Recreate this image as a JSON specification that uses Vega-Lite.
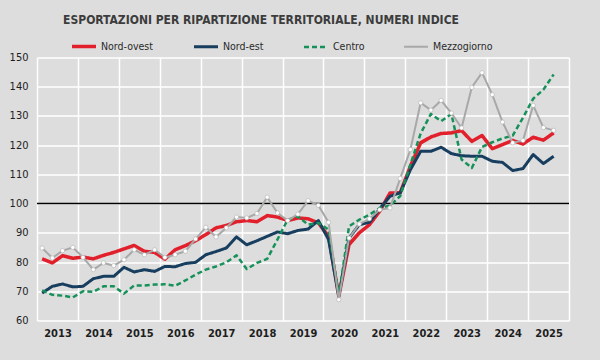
{
  "$schema": "https://vega.github.io/schema/vega-lite/v6.json",
  "autosize": {"type": "none"},
  "width": 532,
  "height": 263,
  "padding": {"left": 37, "top": 57.5, "right": 31, "bottom": 39.5},
  "background": "#dddddd",
  "title": {
    "text": "ESPORTAZIONI PER RIPARTIZIONE TERRITORIALE, NUMERI INDICE",
    "font": "Liberation Sans Narrow, Arial Narrow, DejaVu Sans Condensed, Liberation Sans, sans-serif",
    "fontSize": 12,
    "fontWeight": "bold",
    "color": "#3c3c3c",
    "anchor": "middle",
    "frame": "group",
    "dx": -42,
    "offset": 6
  },
  "config": {
    "view": {"stroke": null, "fill": "#dddddd"},
    "axis": {"labelFont": "Liberation Sans Narrow, Arial Narrow, DejaVu Sans Condensed, Liberation Sans, sans-serif", "labelColor": "#1e1e1e", "gridColor": "#ffffff", "gridWidth": 1.5, "gridOpacity": 1, "domain": false, "ticks": false, "title": null},
    "legend": {"labelFont": "Liberation Sans Narrow, Arial Narrow, DejaVu Sans Condensed, Liberation Sans, sans-serif"}
  },
  "data": {"values": [
    {"t": 2013.125, "Nord-ovest": 81.1, "Nord-est": 69.4, "Centro": 70.3, "Mezzogiorno": 84.8},
    {"t": 2013.375, "Nord-ovest": 79.7, "Nord-est": 71.7, "Centro": 68.8, "Mezzogiorno": 81.4},
    {"t": 2013.625, "Nord-ovest": 82.2, "Nord-est": 72.5, "Centro": 68.5, "Mezzogiorno": 83.9},
    {"t": 2013.875, "Nord-ovest": 81.3, "Nord-est": 71.5, "Centro": 67.9, "Mezzogiorno": 85.0},
    {"t": 2014.125, "Nord-ovest": 81.7, "Nord-est": 71.7, "Centro": 70.0, "Mezzogiorno": 81.6},
    {"t": 2014.375, "Nord-ovest": 81.1, "Nord-est": 74.3, "Centro": 69.8, "Mezzogiorno": 77.4},
    {"t": 2014.625, "Nord-ovest": 82.3, "Nord-est": 75.1, "Centro": 71.7, "Mezzogiorno": 79.7},
    {"t": 2014.875, "Nord-ovest": 83.3, "Nord-est": 75.1, "Centro": 71.7, "Mezzogiorno": 78.8},
    {"t": 2015.125, "Nord-ovest": 84.5, "Nord-est": 78.2, "Centro": 69.2, "Mezzogiorno": 80.8},
    {"t": 2015.375, "Nord-ovest": 85.7, "Nord-est": 76.6, "Centro": 72.0, "Mezzogiorno": 84.2},
    {"t": 2015.625, "Nord-ovest": 83.7, "Nord-est": 77.4, "Centro": 72.0, "Mezzogiorno": 82.5},
    {"t": 2015.875, "Nord-ovest": 83.3, "Nord-est": 76.8, "Centro": 72.3, "Mezzogiorno": 84.2},
    {"t": 2016.125, "Nord-ovest": 81.0, "Nord-est": 78.5, "Centro": 72.4, "Mezzogiorno": 81.6},
    {"t": 2016.375, "Nord-ovest": 84.2, "Nord-est": 78.4, "Centro": 71.9, "Mezzogiorno": 82.5},
    {"t": 2016.625, "Nord-ovest": 85.6, "Nord-est": 79.5, "Centro": 73.7, "Mezzogiorno": 83.7},
    {"t": 2016.875, "Nord-ovest": 87.3, "Nord-est": 79.9, "Centro": 75.7, "Mezzogiorno": 87.9},
    {"t": 2017.125, "Nord-ovest": 89.4, "Nord-est": 82.5, "Centro": 77.4, "Mezzogiorno": 91.9},
    {"t": 2017.375, "Nord-ovest": 91.7, "Nord-est": 83.6, "Centro": 78.5, "Mezzogiorno": 88.6},
    {"t": 2017.625, "Nord-ovest": 92.5, "Nord-est": 84.8, "Centro": 79.9, "Mezzogiorno": 91.7},
    {"t": 2017.875, "Nord-ovest": 93.8, "Nord-est": 88.6, "Centro": 82.3, "Mezzogiorno": 95.4},
    {"t": 2018.125, "Nord-ovest": 94.2, "Nord-est": 85.9, "Centro": 77.6, "Mezzogiorno": 95.1},
    {"t": 2018.375, "Nord-ovest": 93.8, "Nord-est": 87.3, "Centro": 79.7, "Mezzogiorno": 96.6},
    {"t": 2018.625, "Nord-ovest": 95.9, "Nord-est": 88.8, "Centro": 81.1, "Mezzogiorno": 102.2},
    {"t": 2018.875, "Nord-ovest": 95.4, "Nord-est": 90.3, "Centro": 87.7, "Mezzogiorno": 96.8},
    {"t": 2019.125, "Nord-ovest": 94.2, "Nord-est": 89.7, "Centro": 94.5, "Mezzogiorno": 94.2},
    {"t": 2019.375, "Nord-ovest": 95.1, "Nord-est": 90.8, "Centro": 95.6, "Mezzogiorno": 96.4},
    {"t": 2019.625, "Nord-ovest": 94.8, "Nord-est": 91.3, "Centro": 92.8, "Mezzogiorno": 101.0},
    {"t": 2019.875, "Nord-ovest": 93.4, "Nord-est": 94.2, "Centro": 93.4, "Mezzogiorno": 99.4},
    {"t": 2020.125, "Nord-ovest": 88.8, "Nord-est": 87.7, "Centro": 91.1, "Mezzogiorno": 93.6},
    {"t": 2020.375, "Nord-ovest": 68.3, "Nord-est": 68.3, "Centro": 68.5, "Mezzogiorno": 67.1},
    {"t": 2020.625, "Nord-ovest": 86.0, "Nord-est": 88.2, "Centro": 92.2, "Mezzogiorno": 88.2},
    {"t": 2020.875, "Nord-ovest": 90.0, "Nord-est": 92.8, "Centro": 94.5, "Mezzogiorno": 93.0},
    {"t": 2021.125, "Nord-ovest": 92.8, "Nord-est": 93.6, "Centro": 96.2, "Mezzogiorno": 94.8},
    {"t": 2021.375, "Nord-ovest": 97.4, "Nord-est": 98.2, "Centro": 98.5, "Mezzogiorno": 97.9},
    {"t": 2021.625, "Nord-ovest": 103.6, "Nord-est": 102.5, "Centro": 99.3, "Mezzogiorno": 98.5},
    {"t": 2021.875, "Nord-ovest": 103.7, "Nord-est": 103.7, "Centro": 102.6, "Mezzogiorno": 108.6},
    {"t": 2022.125, "Nord-ovest": 112.8, "Nord-est": 111.6, "Centro": 113.4, "Mezzogiorno": 118.5},
    {"t": 2022.375, "Nord-ovest": 120.8, "Nord-est": 117.9, "Centro": 124.0, "Mezzogiorno": 134.5},
    {"t": 2022.625, "Nord-ovest": 122.8, "Nord-est": 117.9, "Centro": 130.7, "Mezzogiorno": 132.0},
    {"t": 2022.875, "Nord-ovest": 124.0, "Nord-est": 119.3, "Centro": 128.2, "Mezzogiorno": 135.3},
    {"t": 2023.125, "Nord-ovest": 124.2, "Nord-est": 117.1, "Centro": 130.7, "Mezzogiorno": 131.0},
    {"t": 2023.375, "Nord-ovest": 125.0, "Nord-est": 116.4, "Centro": 115.1, "Mezzogiorno": 125.9},
    {"t": 2023.625, "Nord-ovest": 121.3, "Nord-est": 116.2, "Centro": 112.2, "Mezzogiorno": 139.8},
    {"t": 2023.875, "Nord-ovest": 123.3, "Nord-est": 116.2, "Centro": 119.4, "Mezzogiorno": 144.8},
    {"t": 2024.125, "Nord-ovest": 118.8, "Nord-est": 114.5, "Centro": 121.0, "Mezzogiorno": 137.3},
    {"t": 2024.375, "Nord-ovest": 120.2, "Nord-est": 114.1, "Centro": 122.3, "Mezzogiorno": 127.9},
    {"t": 2024.625, "Nord-ovest": 121.6, "Nord-est": 111.3, "Centro": 123.3, "Mezzogiorno": 120.8},
    {"t": 2024.875, "Nord-ovest": 120.4, "Nord-est": 112.0, "Centro": 129.4, "Mezzogiorno": 121.6},
    {"t": 2025.125, "Nord-ovest": 122.7, "Nord-est": 116.8, "Centro": 135.9, "Mezzogiorno": 133.6},
    {"t": 2025.375, "Nord-ovest": 121.7, "Nord-est": 113.7, "Centro": 139.0, "Mezzogiorno": 126.0},
    {"t": 2025.625, "Nord-ovest": 124.2, "Nord-est": 116.2, "Centro": 144.2, "Mezzogiorno": 125.1}
  ]},
  "transform": [{"fold": ["Nord-ovest", "Nord-est", "Centro", "Mezzogiorno"], "as": ["serie", "v"]}],
  "encoding": {
    "x": {"field": "t", "type": "quantitative",
      "scale": {"domain": [2013, 2026], "nice": false, "zero": false},
      "axis": {"values": [2013, 2014, 2015, 2016, 2017, 2018, 2019, 2020, 2021, 2022, 2023, 2024, 2025, 2026],
        "labelExpr": "datum.value == 2026 ? '' : '' + datum.value",
        "labelOffset": 20.5, "labelFlush": false, "labelOverlap": false, "labelPadding": 7,
        "labelFontWeight": "bold", "labelFontSize": 11}},
    "y": {"field": "v", "type": "quantitative",
      "scale": {"domain": [60, 150], "nice": false, "zero": false},
      "axis": {"values": [60, 70, 80, 90, 100, 110, 120, 130, 140, 150], "labelPadding": 9, "labelFontSize": 11}}
  },
  "layer": [
    {
      "data": {"values": [{"ref": 100}]},
      "transform": [],
      "mark": {"type": "rule", "color": "#000000", "strokeWidth": 1.5},
      "encoding": {"x": null, "y": {"field": "ref", "type": "quantitative"}}
    },
    {
      "mark": {"type": "line", "strokeJoin": "round"},
      "encoding": {
        "color": {"field": "serie", "type": "nominal",
          "scale": {"domain": ["Nord-ovest", "Nord-est", "Centro", "Mezzogiorno"], "range": ["#e2202c", "#173e5f", "#16915a", "#a8a8a8"]},
          "legend": {"title": null, "orient": "none", "legendX": 33, "legendY": -25, "direction": "horizontal", "columns": 4,
            "columnPadding": 35, "symbolType": "stroke", "symbolSize": 576, "labelOffset": 3, "labelFontSize": 10.5, "labelColor": "#2a2a2a"}},
        "strokeDash": {"field": "serie", "type": "nominal",
          "scale": {"domain": ["Nord-ovest", "Nord-est", "Centro", "Mezzogiorno"], "range": [[1, 0], [1, 0], [5, 3], [1, 0]]}},
        "strokeWidth": {"field": "serie", "type": "nominal",
          "scale": {"domain": ["Nord-ovest", "Nord-est", "Centro", "Mezzogiorno"], "range": [3.5, 2, 2, 2]}},
        "order": {"field": "t"}
      }
    },
    {
      "transform": [{"filter": "datum.serie == 'Mezzogiorno'"}],
      "mark": {"type": "point", "filled": true, "fill": "#ffffff", "stroke": "#b0b0b0", "strokeWidth": 0.6, "size": 18, "opacity": 1}
    }
  ]
}
